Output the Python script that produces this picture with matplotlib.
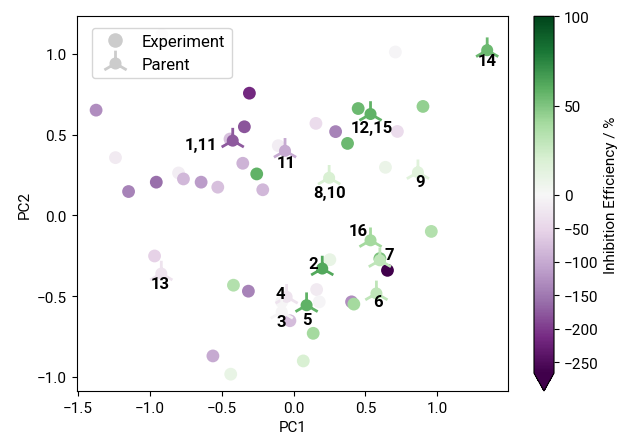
import numpy as np
import matplotlib
matplotlib.use('Agg')
import matplotlib.pyplot as plt
from matplotlib.path import Path
from matplotlib.colors import TwoSlopeNorm
from matplotlib.lines import Line2D

plt.rcParams['font.family'] = ['Roboto', 'DejaVu Sans']
plt.rcParams['font.size'] = 11

# Experiment points ---------------------------------------------------------------------------------------------------
exp_pc1 = [-1.375, -1.24, -0.917, -0.308, -0.343, -0.443, -0.354, -0.257, -0.215, -1.149,
           -0.956, -0.801, -0.767, -0.644, -0.528, -0.107, 0.708, 0.449, 0.90, 0.155,
           0.292, 0.722, 0.375, 0.639, -0.968, -0.419, -0.315, -0.562, -0.438, -0.026,
           0.067, 0.136, 0.252, 0.16, 0.178, 0.403, 0.419, 0.653, 0.958, 0.60, -0.083]
exp_pc2 = [0.652, 0.358, 1.117, 0.757, 0.549, 0.473, 0.323, 0.257, 0.159, 0.148,
           0.206, 0.263, 0.226, 0.206, 0.175, 0.432, 1.012, 0.662, 0.675, 0.57,
           0.519, 0.52, 0.446, 0.298, -0.251, -0.432, -0.469, -0.870, -0.983, -0.652,
           -0.901, -0.730, -0.274, -0.459, -0.535, -0.535, -0.549, -0.34, -0.099, -0.267, -0.535]
exp_eff = [-130, -20, -15, -215, -180, -75, -90, 58, -85, -140,
           -160, -15, -85, -115, -75, -15, -5, 55, 45, -40,
           -140, -40, 55, 8, -55, 35, -140, -100, 10, -80,
           20, 40, 10, -20, -5, -130, 40, -266, 35, 50, -3]

# Parent points -------------------------------------------------------------------------------------------------------
par_labels = ['1,11', '11', '12,15', '8,10', '9', '14', '13', '2', '4', '3', '5', '16', '7', '6']
par_pc1 = [-0.424, -0.06, 0.535, 0.247, 0.865, 1.347, -0.921, 0.199, -0.049, -0.083, 0.09, 0.535, 0.60, 0.576]
par_pc2 = [0.463, 0.40, 0.628, 0.233, 0.267, 1.023, -0.36, -0.329, -0.504, -0.597, -0.556, -0.154, -0.278, -0.483]
par_eff = [-175, -100, 58, 20, 15, 55, -30, 62, -30, -3, 58, 40, 30, 30]
# label offsets in points, and alignment
par_off = [(-11, -3), (0.5, -8.5), (0.7, -9.6), (0.5, -10.3), (1.2, -6.5), (0, -7.7), (-0.7, -7.2),
           (-6.5, 4), (-4.8, 2.4), (0, -7.2), (0.4, -10), (-8.9, 7.2), (6.7, 4), (1.2, -5.5)]
par_ha = ['right', 'center', 'center', 'center', 'center', 'center', 'center',
          'center', 'center', 'center', 'center', 'center', 'center', 'center']

# Parent marker: filled circle with three arms ------------------------------------------------------------------------
circ = Path.unit_circle()
circ = Path(circ.vertices * 0.36, circ.codes)
arms = []
for ang in (90, 210, 330):
    a = np.deg2rad(ang)
    arms.append(Path([[0, 0], [np.cos(a), np.sin(a)]], [Path.MOVETO, Path.LINETO]))
parent_marker = Path.make_compound_path(circ, *arms)

norm = TwoSlopeNorm(vmin=-266, vcenter=0, vmax=100)
cmap = plt.get_cmap('PRGn')

fig = plt.figure(figsize=(6.22, 4.35), dpi=100)
ax = fig.add_axes([0.1233, 0.0989, 0.693, 0.8613])
cax = fig.add_axes([0.8585, 0.0989, 0.0322, 0.8613])

sc = ax.scatter(exp_pc1, exp_pc2, c=exp_eff, cmap=cmap, norm=norm, s=85, linewidths=0)
ax.scatter(par_pc1, par_pc2, c=par_eff, cmap=cmap, norm=norm, s=340, marker=parent_marker,
           edgecolors='face', linewidths=2.0)

for lab, x, y, off, ha in zip(par_labels, par_pc1, par_pc2, par_off, par_ha):
    ax.annotate(lab, (x, y), xytext=off, textcoords='offset points', ha=ha, va='center',
                fontsize=12, fontweight='bold', color='black')

ax.set_xlim(-1.51, 1.49)
ax.set_ylim(-1.087, 1.233)
ax.set_xticks([-1.5, -1.0, -0.5, 0.0, 0.5, 1.0])
ax.set_yticks([-1.0, -0.5, 0.0, 0.5, 1.0])
ax.set_xlabel('PC1')
ax.set_ylabel('PC2')

handles = [Line2D([], [], linestyle='none', marker='o', markersize=10.5, color='#cccccc', markeredgewidth=0),
           Line2D([], [], linestyle='none', marker=parent_marker, markersize=18.5, color='#cccccc',
                  markeredgewidth=2.0)]
ax.legend(handles, ['Experiment', 'Parent'], loc='upper left', bbox_to_anchor=(0.035, 0.97),
          borderaxespad=0, fontsize=12, labelspacing=0.45, handletextpad=0.6)

cb = fig.colorbar(sc, cax=cax, extend='min')
cb.set_ticks([100, 50, 0, -50, -100, -150, -200, -250])
cb.set_label('Inhibition Efficiency / %')

fig.savefig('out.png', dpi=100)
